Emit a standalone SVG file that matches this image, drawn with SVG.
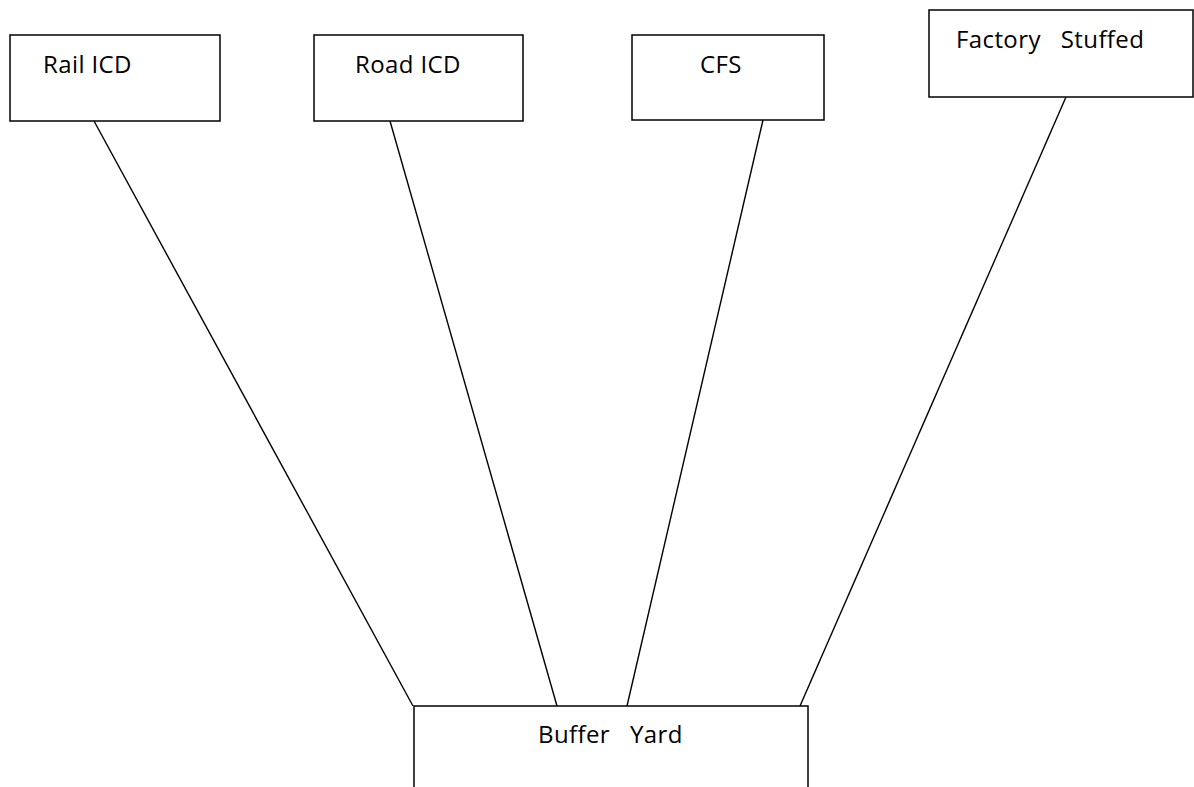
<svg xmlns="http://www.w3.org/2000/svg" width="1194" height="787" viewBox="0 0 1194 787">
<style>
.box{fill:#fff;stroke:#000;stroke-width:1.5}
.lbl{font-family:"Open Sans","Liberation Sans",sans-serif;font-size:24px;letter-spacing:0.4px;fill:#000}
.conn line{stroke:#000;stroke-width:1.4}
</style>
<rect width="1194" height="787" fill="#fff"/>
<g id="connectors" class="conn">
<line x1="94" y1="121" x2="413" y2="706"/>
<line x1="390" y1="121" x2="557" y2="706"/>
<line x1="763" y1="120" x2="627" y2="706"/>
<line x1="1066" y1="97" x2="800" y2="706"/>
</g>
<g id="rail-icd">
<rect class="box" x="10" y="35" width="210" height="86"/>
<text class="lbl" x="43" y="73">Rail ICD</text>
</g>
<g id="road-icd">
<rect class="box" x="314" y="35" width="209" height="86"/>
<text class="lbl" x="355" y="73">Road ICD</text>
</g>
<g id="cfs">
<rect class="box" x="632" y="35" width="192" height="85"/>
<text class="lbl" x="700" y="73">CFS</text>
</g>
<g id="factory-stuffed">
<rect class="box" x="929" y="10" width="264" height="87"/>
<text class="lbl" x="956" y="48" xml:space="preserve">Factory   Stuffed</text>
</g>
<g id="buffer-yard">
<rect class="box" x="414" y="706" width="394" height="100"/>
<text class="lbl" x="538" y="743" xml:space="preserve">Buffer   Yard</text>
</g>
</svg>
